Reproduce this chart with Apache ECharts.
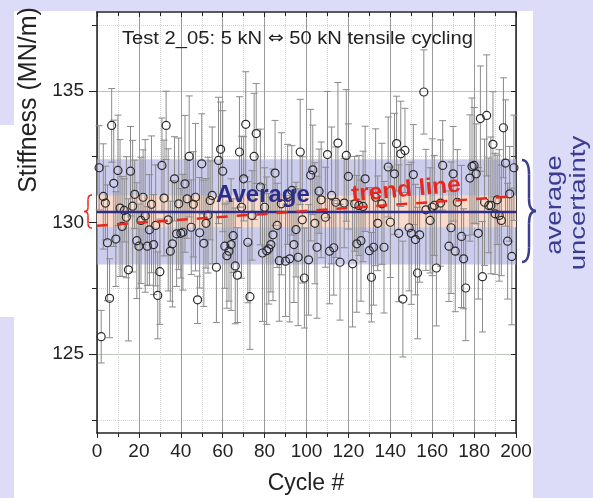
<!DOCTYPE html>
<html>
<head>
<meta charset="utf-8">
<script src="https://cdn.jsdelivr.net/npm/echarts@6/dist/echarts.min.js"></script>
<style>
html,body{margin:0;padding:0;background:#dcdcf8;}
#c{width:593px;height:498px;}
</style>
</head>
<body>
<div id="c"></div>
<script>
// ---------------- data ----------------
const cycles = [
  1,2,3,4,5,6,7,8,9,10,
  11,12,13,14,15,16,17,18,19,20,
  21,22,23,24,25,26,27,28,29,30,
  31,32,33,34,35,36,37,38,39,40,
  41,42,43,44,45,46,47,48,49,50,
  51,52,53,54,55,57,58,59,60,61,
  62,63,64,65,66,67,68,69,70,71,
  72,73,74,75,76,78,79,80,81,82,
  83,84,85,86,87,88,90,91,92,93,
  94,95,96,97,98,99,101,102,103,104,
  105,106,107,109,110,111,112,113,114,115,
  116,118,119,120,122,123,124,125,126,127,
  128,130,131,132,133,134,136,137,139,140,
  142,143,144,145,146,147,149,150,151,152,
  153,154,156,157,159,160,161,162,164,165,
  168,169,170,171,172,174,175,176,178,179,
  180,181,182,183,184,185,186,187,188,189,
  190,191,192,193,194,195,196,197,198,199
];
const stiffness = [
  132.08,125.66,130.99,130.74,129.23,127.12,133.69,131.49,129.37,131.98,
  130.55,129.85,130.46,130.20,128.20,131.95,130.62,131.07,129.31,129.10,
  130.08,130.96,130.25,129.10,129.72,130.69,129.16,129.89,127.23,128.13,
  132.17,130.93,133.69,130.10,128.91,129.19,131.66,129.57,130.71,129.59,
  129.63,131.47,130.90,132.51,129.82,130.69,130.96,127.06,129.61,132.23,
  129.21,129.97,130.28,130.84,131.03,128.30,132.36,132.78,131.95,129.10,
  128.74,128.91,129.16,129.50,128.35,128.00,132.68,130.58,131.66,133.73,
  129.25,127.18,130.27,132.51,133.38,131.35,128.84,130.58,128.93,129.00,
  129.16,129.53,131.88,129.89,128.55,130.71,128.53,131.07,128.62,131.22,
  129.16,129.73,128.68,132.68,130.10,127.89,128.58,131.80,132.00,129.97,
  129.06,131.19,130.86,130.20,132.58,128.91,131.03,129.04,130.77,133.02,
  128.49,130.74,132.55,131.75,128.43,130.71,129.19,130.65,129.31,130.61,
  131.66,128.93,127.92,129.06,130.96,129.97,130.71,129.06,132.11,130.01,
  131.85,133.00,129.59,132.61,127.09,132.74,129.80,129.59,131.82,129.35,
  128.08,129.53,134.96,130.48,130.08,130.58,130.65,128.27,130.74,132.17,
  129.10,129.80,131.85,128.91,130.77,129.47,128.62,127.51,131.69,132.13,
  132.17,131.85,129.59,133.95,127.94,130.77,134.07,130.65,130.65,132.97,
  130.33,130.86,130.27,130.08,133.60,132.26,129.29,131.09,128.71,132.08
];
const errBars = [
  1.6,1.0,2.0,1.4,2.2,1.5,1.4,2.4,1.8,2.1,
  2.6,1.9,1.2,2.3,2.7,1.7,2.5,1.3,2.2,1.6,
  2.4,1.8,2.9,1.5,2.1,2.6,1.9,2.3,1.65,2.0,
  1.8,2.2,1.3,2.7,1.9,2.4,1.6,2.0,2.5,1.7,
  2.2,2.6,1.5,2.3,1.8,2.0,2.8,0.9,2.1,1.9,
  2.4,1.7,2.2,1.5,2.6,2.1,2.4,1.8,2.3,1.6,
  2.0,1.9,2.5,1.4,2.2,1.8,2.1,2.7,1.6,2.0,
  2.3,2.0,1.7,2.4,1.9,2.2,2.6,1.5,2.8,2.1,
  1.8,2.5,2.0,1.6,2.3,2.7,2.1,1.9,2.4,1.7,
  2.2,1.8,2.6,2.0,2.4,1.9,2.1,2.5,1.7,2.3,
  2.7,1.6,2.2,1.9,2.4,2.0,2.6,1.8,2.1,2.3,
  2.2,1.7,2.5,2.0,2.4,1.8,2.6,1.9,2.3,2.1,
  2.0,2.4,1.7,2.2,2.6,1.8,2.3,2.5,1.9,2.1,
  2.3,1.8,2.6,2.0,2.2,1.6,2.4,2.7,1.9,2.1,
  2.5,1.8,1.6,2.3,2.0,2.6,1.9,2.2,2.4,1.7,
  2.1,2.5,1.8,2.3,2.0,2.7,1.9,2.0,2.4,2.6,
  2.2,1.9,2.5,2.0,2.1,2.4,2.3,1.8,2.6,2.0,
  2.3,1.7,2.5,2.1,1.9,2.4,2.2,1.8,2.6,2.0
];
const averageValue = 130.4;
const avgUncertainty = [128.4, 132.4];   // lavender band
const innerBand = [129.82, 131.03];      // peach band
const trendEnds = [129.88, 131.0];       // trend line at cycle 0 and 200
const xRange = [0, 200];
const yRange = [122, 138];
const yMajorTicks = [125, 130, 135];
const yMinorTicks = [122.5, 127.5, 132.5, 137.5];
const yAllTicks = [122.5, 125, 127.5, 130, 132.5, 135, 137.5];

// ---------------- chart ----------------
const FF = '"Liberation Sans", Arial, sans-serif';
const chart = echarts.init(document.getElementById('c'), null, {renderer: 'canvas'});
const points = cycles.map((c, i) => [c, stiffness[i], errBars[i]]);

// curly brace built from quadratic curves and lines
function brace(x, y0, y1, w, dir, color, lw) {
  const h = y1 - y0, m = (y0 + y1) / 2, xm = x + dir * w / 2, xt = x + dir * w;
  const st = {stroke: color, lineWidth: lw, fill: null};
  const a = y0 + h * 0.14, b = m - h * 0.12, c = m + h * 0.12, d = y1 - h * 0.14;
  return {
    type: 'group', z: 100, silent: true,
    children: [
      {type: 'bezierCurve', shape: {x1: x, y1: y0, cpx1: xm, cpy1: y0, x2: xm, y2: a}, style: st},
      {type: 'line', shape: {x1: xm, y1: a, x2: xm, y2: b}, style: st},
      {type: 'bezierCurve', shape: {x1: xm, y1: b, cpx1: xm, cpy1: m, x2: xt, y2: m}, style: st},
      {type: 'bezierCurve', shape: {x1: xt, y1: m, cpx1: xm, cpy1: m, x2: xm, y2: c}, style: st},
      {type: 'line', shape: {x1: xm, y1: c, x2: xm, y2: d}, style: st},
      {type: 'bezierCurve', shape: {x1: xm, y1: d, cpx1: xm, cpy1: y1, x2: x, y2: y1}, style: st}
    ]
  };
}

const option = {
  backgroundColor: '#dcdcf8',
  animation: false,
  grid: {left: 97, right: 77, top: 12, bottom: 65, containLabel: false},
  xAxis: [{
    type: 'value', position: 'bottom', min: xRange[0], max: xRange[1], interval: 20,
    axisLine: {show: true, lineStyle: {color: '#222', width: 1.5}},
    axisTick: {show: true, length: 5, lineStyle: {color: '#222'}},
    minorTick: {show: true, splitNumber: 2, length: 4, lineStyle: {color: '#222'}},
    axisLabel: {fontSize: 19, color: '#222', fontFamily: FF, margin: 9},
    splitLine: {show: true, lineStyle: {color: '#9a9a9a', width: 1}},
    minorSplitLine: {show: true, lineStyle: {color: '#d0d0d0', type: 'dotted'}}
  }, {
    type: 'value', position: 'top', min: xRange[0], max: xRange[1], interval: 20,
    axisLine: {show: true, lineStyle: {color: '#222', width: 1.5}},
    axisTick: {show: true, inside: true, length: 5, lineStyle: {color: '#222'}},
    minorTick: {show: true, splitNumber: 2, length: 4, lineStyle: {color: '#222'}},
    axisLabel: {show: false},
    splitLine: {show: false}
  }],
  yAxis: [{
    type: 'value', position: 'left', min: yRange[0], max: yRange[1],
    axisLine: {show: true, lineStyle: {color: '#222', width: 1.5}},
    axisTick: {show: true, length: 8, customValues: yMajorTicks, lineStyle: {color: '#222'}},
    axisLabel: {customValues: yMajorTicks, fontSize: 19, color: '#222', fontFamily: FF, margin: 13},
    splitLine: {show: true, lineStyle: {color: '#bccab5', width: 1}}
  }, {
    type: 'value', position: 'left', min: yRange[0], max: yRange[1],
    axisLine: {show: false},
    axisTick: {show: true, length: 5, customValues: yMinorTicks, lineStyle: {color: '#222'}},
    axisLabel: {show: false},
    splitLine: {show: true, lineStyle: {color: '#d4d4d4', type: 'dotted'}}
  }, {
    type: 'value', position: 'right', min: yRange[0], max: yRange[1],
    axisLine: {show: true, lineStyle: {color: '#222', width: 1.5}},
    axisTick: {show: true, inside: true, length: 5, customValues: yAllTicks, lineStyle: {color: '#222'}},
    axisLabel: {show: false},
    splitLine: {show: false}
  }],
  series: [{
    type: 'custom', name: 'bands', z: 1, silent: true,
    data: [[avgUncertainty[0], avgUncertainty[1], 0], [innerBand[0], innerBand[1], 1]],
    renderItem: function (params, api) {
      const lo = api.value(0), hi = api.value(1), k = api.value(2);
      const p1 = api.coord([xRange[0], hi]);
      const p2 = api.coord([xRange[1], lo]);
      return {type: 'rect', shape: {x: p1[0], y: p1[1], width: p2[0] - p1[0], height: p2[1] - p1[1]},
        style: {fill: k === 0 ? 'rgba(176,176,226,0.65)' : 'rgb(250,218,202)'}};
    }
  }, {
    type: 'custom', name: 'errors', z: 3, silent: true,
    data: points,
    renderItem: function (params, api) {
      const x = api.value(0), y = api.value(1), e = api.value(2);
      const c = api.coord([x, y]);
      const t = api.coord([x, y + e]);
      const b = api.coord([x, y - e]);
      const r = 4, cap = 3.5;
      const st = {stroke: '#8a8a8a', lineWidth: 1};
      const ch = [];
      if (t[1] < c[1] - r) ch.push({type: 'line', shape: {x1: c[0], y1: c[1] - r, x2: c[0], y2: t[1]}, style: st});
      if (b[1] > c[1] + r) ch.push({type: 'line', shape: {x1: c[0], y1: c[1] + r, x2: c[0], y2: b[1]}, style: st});
      ch.push({type: 'line', shape: {x1: c[0] - cap, y1: t[1], x2: c[0] + cap, y2: t[1]}, style: st});
      ch.push({type: 'line', shape: {x1: c[0] - cap, y1: b[1], x2: c[0] + cap, y2: b[1]}, style: st});
      return {type: 'group', children: ch};
    }
  }, {
    type: 'custom', name: 'points', z: 4, silent: true,
    data: points,
    renderItem: function (params, api) {
      const c = api.coord([api.value(0), api.value(1)]);
      return {type: 'circle', shape: {cx: c[0], cy: c[1], r: 4},
        style: {fill: null, stroke: '#2a2a2a', lineWidth: 1.2}};
    }
  }, {
    type: 'line', name: 'Average', z: 6, symbol: 'none', silent: true,
    data: [[xRange[0], averageValue], [xRange[1], averageValue]],
    lineStyle: {color: '#2c2c8c', width: 2.5}
  }, {
    type: 'line', name: 'trend line', z: 6, symbol: 'none', silent: true,
    data: [[xRange[0], trendEnds[0]], [xRange[1], trendEnds[1]]],
    lineStyle: {color: '#e8281e', width: 2.5, type: [11, 9]}
  }],
  graphic: [
    {type: 'rect', z: -10, silent: true, shape: {x: 14, y: 11, width: 519, height: 487}, style: {fill: '#ffffff'}},
    {type: 'rect', z: -10, silent: true, shape: {x: 0, y: 125, width: 14, height: 192}, style: {fill: '#ffffff'}},
    {type: 'text', z: 100, x: 29, y: 100, rotation: Math.PI / 2,
      style: {text: 'Stiffness (MN/m)', font: '25px ' + FF, fill: '#222', textAlign: 'center', textVerticalAlign: 'middle'}},
    {type: 'text', z: 100, x: 306, y: 484,
      style: {text: 'Cycle #', font: '23px ' + FF, fill: '#222', textAlign: 'center', textVerticalAlign: 'middle'}},
    {type: 'text', z: 100, x: 297.5, y: 39, scaleX: 1.12,
      style: {
        text: '{a|Test 2_05: 5 kN }{b|\u21D4}{a| 50 kN tensile cycling}',
        textAlign: 'center', textVerticalAlign: 'middle',
        rich: {
          a: {font: '18px ' + FF, fill: '#222'},
          b: {font: '17px "DejaVu Sans"', fill: '#222'}
        }
      }},
    {type: 'text', z: 100, x: 216, y: 195,
      style: {text: 'Average', font: 'bold 24px ' + FF, fill: '#2c2c8c', textAlign: 'left', textVerticalAlign: 'middle'}},
    {type: 'text', z: 100, x: 406, y: 190, rotation: 0.09, scaleX: 1.06,
      style: {text: 'trend line', font: 'bold 23px ' + FF, fill: '#e8281e', textAlign: 'center', textVerticalAlign: 'middle'}},
    brace(522, 160, 262, 14, 1, '#3c3c90', 2.5),
    brace(92, 195, 228, 8, -1, '#e8281e', 1.5),
    {type: 'text', z: 100, x: 555, y: 205, rotation: Math.PI / 2, scaleX: 1.25,
      style: {text: 'average', font: '22px ' + FF, fill: '#3c3c90', textAlign: 'center', textVerticalAlign: 'middle'}},
    {type: 'text', z: 100, x: 579, y: 203, rotation: Math.PI / 2, scaleX: 1.25,
      style: {text: 'uncertainty', font: '22px ' + FF, fill: '#3c3c90', textAlign: 'center', textVerticalAlign: 'middle'}}
  ]
};
chart.setOption(option);
</script>
</body>
</html>
